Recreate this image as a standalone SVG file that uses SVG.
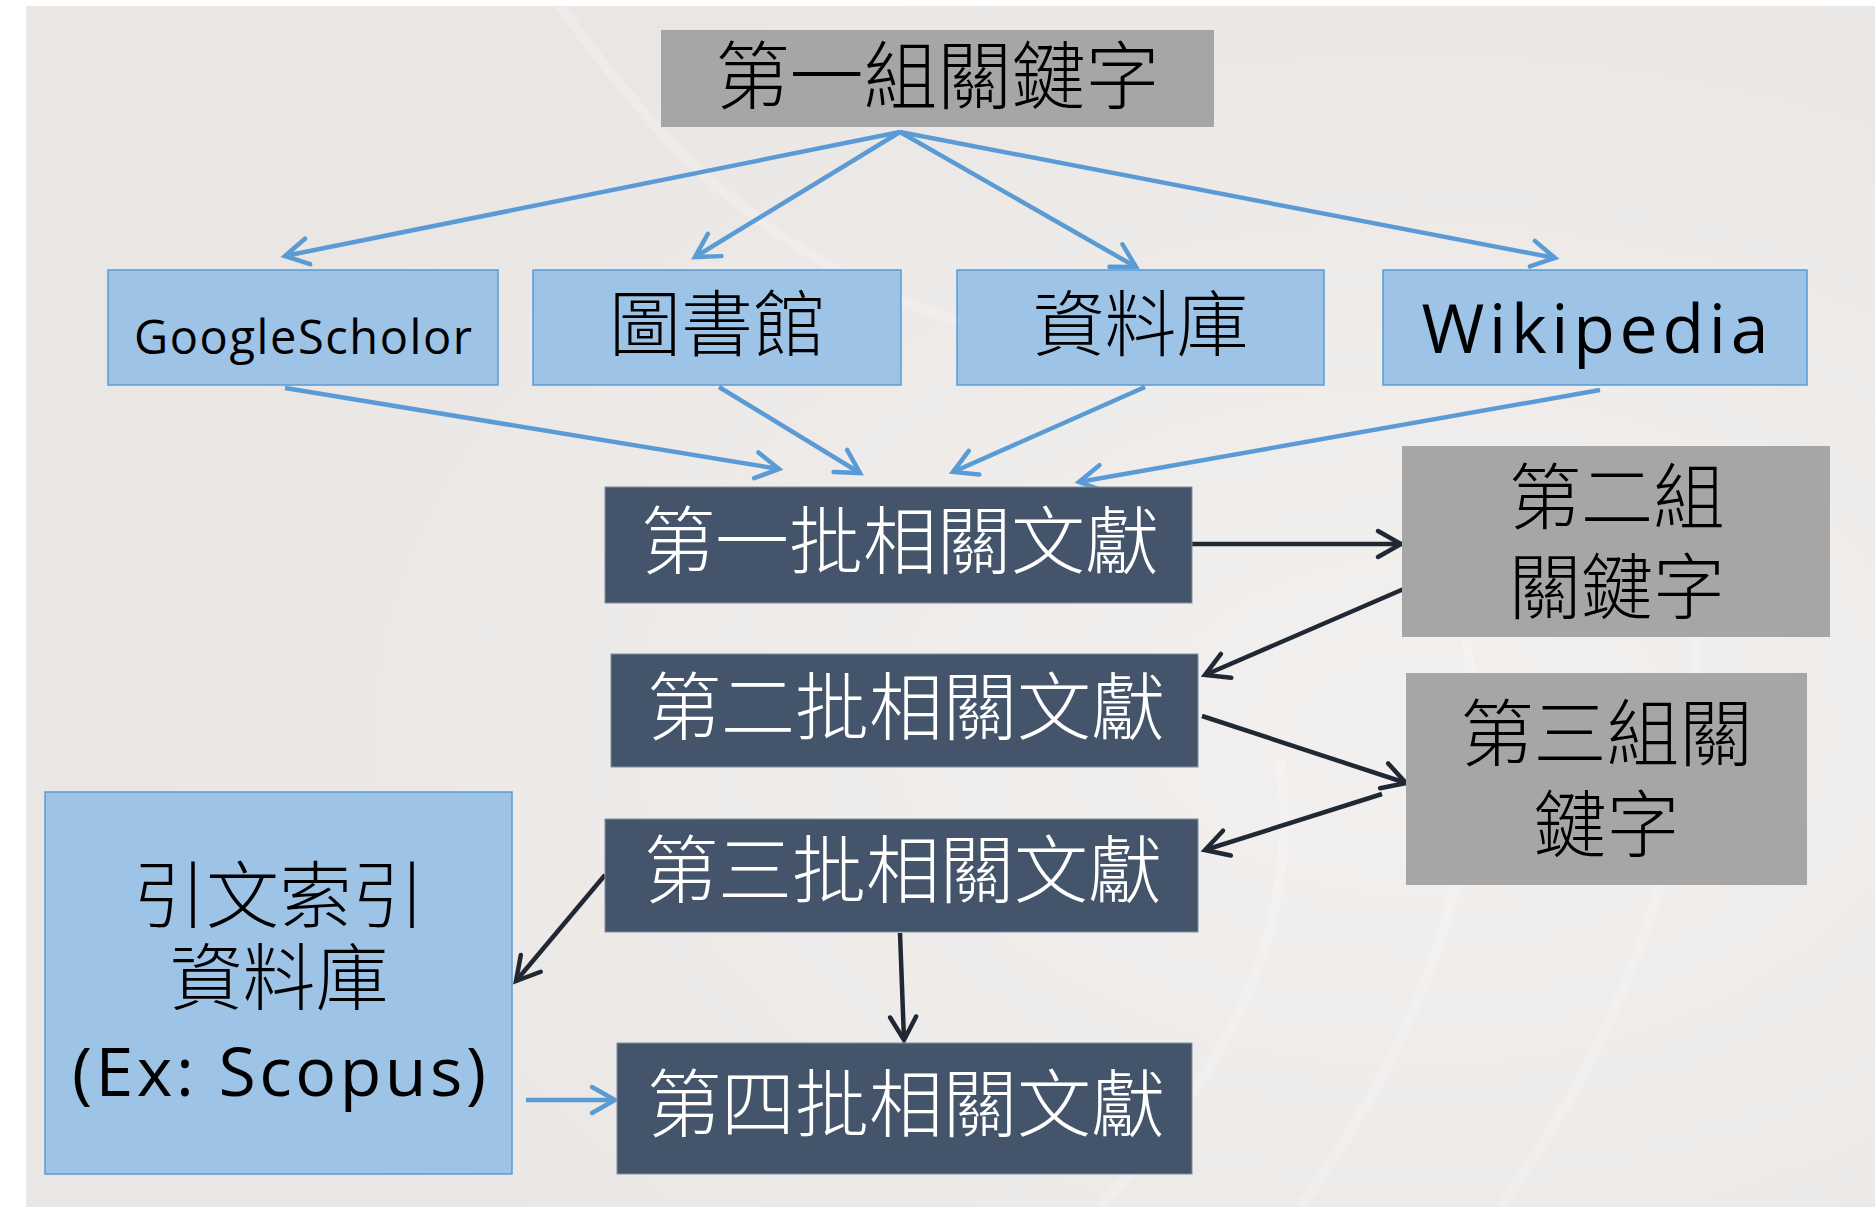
<svg xmlns="http://www.w3.org/2000/svg" width="1875" height="1207" viewBox="0 0 1875 1207">
<defs>
<style>
.arc{fill:none;stroke:#ffffff;stroke-opacity:0.22;stroke-width:10}
.gray{fill:#a6a6a6}
.blue{fill:#9dc3e6;stroke:#5b9bd5;stroke-width:1.5}
.dark{fill:#44546a;stroke:#7f8ea3;stroke-width:1}
.cjk{font-family:"Noto Sans CJK TC","Noto Sans CJK SC",sans-serif;font-weight:300;text-anchor:middle;dominant-baseline:central}
.lat{font-family:"Open Sans","Noto Sans","Liberation Sans",sans-serif;font-weight:400;text-anchor:middle;dominant-baseline:auto}
.k{fill:#000000}
.w{fill:#ffffff}
.cb{fill:none;stroke:#5b9bd5;stroke-width:4.5;marker-end:url(#ab)}
.cd{fill:none;stroke:#1f2833;stroke-width:4.5;marker-end:url(#ad)}
</style>
<marker id="ab" markerUnits="userSpaceOnUse" markerWidth="34" markerHeight="34" viewBox="0 0 34 34" refX="29" refY="17" orient="auto">
<path d="M6,4 L29,17 L6,30" fill="none" stroke="#5b9bd5" stroke-width="4.5" stroke-linecap="round" stroke-linejoin="miter"/>
</marker>
<marker id="ad" markerUnits="userSpaceOnUse" markerWidth="34" markerHeight="34" viewBox="0 0 34 34" refX="29" refY="17" orient="auto">
<path d="M6,4 L29,17 L6,30" fill="none" stroke="#1f2833" stroke-width="4.5" stroke-linecap="round" stroke-linejoin="miter"/>
</marker>
<radialGradient id="glow" cx="0.75" cy="0.6" r="0.7">
<stop offset="0" stop-color="#f3f1ef"/>
<stop offset="1" stop-color="#e9e6e4"/>
</radialGradient>
</defs>
<rect x="0" y="0" width="1875" height="1207" fill="#ffffff"/>
<g id="background">
<rect x="26" y="6" width="1849" height="1201" fill="url(#glow)"/>
<path class="arc" d="M1300,1207 C1450,1000 1500,800 1460,600"/>
<path class="arc" d="M1500,1207 C1650,1000 1720,760 1690,520"/>
<path class="arc" d="M1100,1207 C1250,1050 1300,900 1280,760"/>
<path class="arc" d="M560,6 C700,200 820,300 1100,360"/>
</g>
<g id="connectors">
<path class="cb" d="M900,132 L285,256"/>
<path class="cb" d="M900,132 L695,257"/>
<path class="cb" d="M900,132 L1136,267"/>
<path class="cb" d="M900,132 L1555,258"/>
<path class="cb" d="M285,388 L779,469"/>
<path class="cb" d="M719,387 L860,473"/>
<path class="cb" d="M1145,387 L953,472"/>
<path class="cb" d="M1600,390 L1079,482"/>
<path class="cd" d="M1192,544 L1401,544"/>
<path class="cd" d="M1406,588 L1205,675"/>
<path class="cd" d="M1202,716 L1406,783"/>
<path class="cd" d="M1382,794 L1205,850"/>
<path class="cd" d="M605,875 L516,981"/>
<path class="cd" d="M900,933 L904,1040"/>
<path class="cb" d="M526,1100 L615,1100"/>
</g>
<g id="kw1">
<rect class="gray" x="661" y="30" width="553" height="97"/>
<text class="cjk k" x="937.5" y="70" font-size="74">第一組關鍵字</text>
</g>
<g id="googlescholar">
<rect class="blue" x="108" y="270" width="390" height="115"/>
<text class="lat k" x="303" y="354" font-size="47" textLength="338">GoogleScholor</text>
</g>
<g id="library">
<rect class="blue" x="533" y="270" width="368" height="115"/>
<text class="cjk k" x="717" y="318" font-size="72">圖書館</text>
</g>
<g id="database">
<rect class="blue" x="957" y="270" width="367" height="115"/>
<text class="cjk k" x="1140.5" y="318" font-size="72">資料庫</text>
</g>
<g id="wikipedia">
<rect class="blue" x="1383" y="270" width="424" height="115"/>
<text class="lat k" x="1595" y="353" font-size="68" textLength="347">Wikipedia</text>
</g>
<g id="lit1">
<rect class="dark" x="605" y="487" width="587" height="116"/>
<text class="cjk w" x="900" y="535" font-size="74">第一批相關文獻</text>
</g>
<g id="lit2">
<rect class="dark" x="611" y="654" width="587" height="113"/>
<text class="cjk w" x="906" y="701" font-size="74">第二批相關文獻</text>
</g>
<g id="lit3">
<rect class="dark" x="605" y="819" width="593" height="113"/>
<text class="cjk w" x="903" y="864" font-size="74">第三批相關文獻</text>
</g>
<g id="lit4">
<rect class="dark" x="617" y="1043" width="575" height="131"/>
<text class="cjk w" x="906" y="1098" font-size="74">第四批相關文獻</text>
</g>
<g id="kw2">
<rect class="gray" x="1402" y="446" width="428" height="191"/>
<text class="cjk k" font-size="72"><tspan x="1617" y="491">第二組</tspan><tspan x="1617" y="581">關鍵字</tspan></text>
</g>
<g id="kw3">
<rect class="gray" x="1406" y="673" width="401" height="212"/>
<text class="cjk k" font-size="73"><tspan x="1606.5" y="728">第三組關</tspan><tspan x="1606.5" y="819">鍵字</tspan></text>
</g>
<g id="citation">
<rect class="blue" x="45" y="792" width="467" height="382"/>
<text class="cjk k" font-size="73"><tspan x="279" y="890">引文索引</tspan><tspan x="279" y="972">資料庫</tspan></text>
<text class="lat k" x="279" y="1096" font-size="68" textLength="414">(Ex: Scopus)</text>
</g>
</svg>
